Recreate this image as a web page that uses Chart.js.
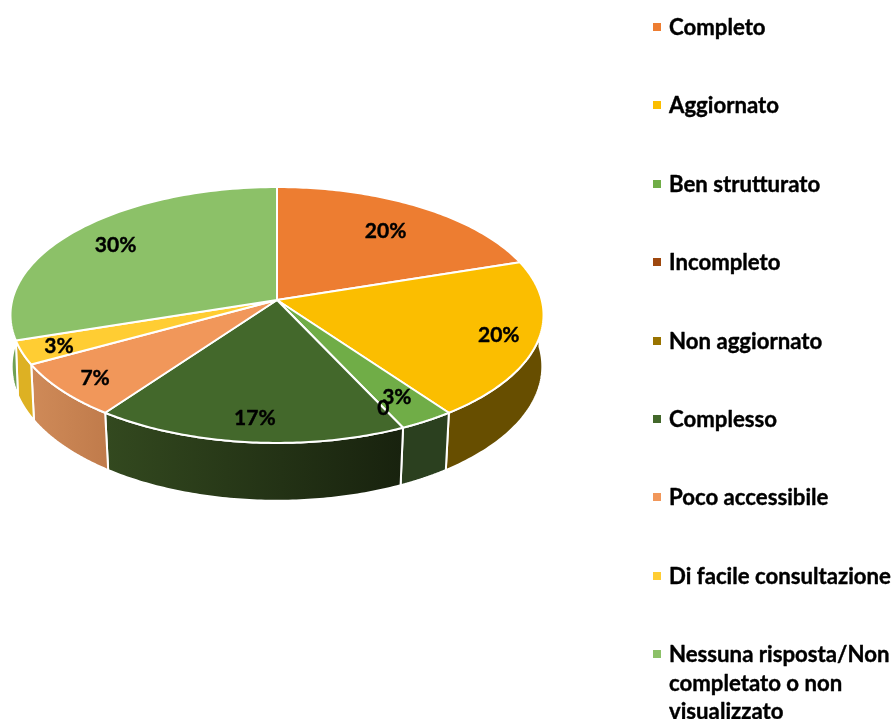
<!DOCTYPE html>
<html>
<head>
<meta charset="utf-8">
<title>Pie</title>
<script src="https://cdn.jsdelivr.net/npm/chart.js@4"></script>
<style>
  html, body { margin: 0; padding: 0; background: #fff; overflow: hidden; }
  canvas { display: block; }
</style>
</head>
<body>
<canvas id="chart" width="893" height="719"></canvas>
<script>
'use strict';

var categories = ['Completo', 'Aggiornato', 'Ben strutturato', 'Incompleto', 'Non aggiornato',
  'Complesso', 'Poco accessibile', 'Di facile consultazione', 'Nessuna risposta/Non completato o non visualizzato'];
var legendLines = [['Completo'], ['Aggiornato'], ['Ben strutturato'], ['Incompleto'], ['Non aggiornato'],
  ['Complesso'], ['Poco accessibile'], ['Di facile consultazione'], ['Nessuna risposta/Non', 'completato o non', 'visualizzato']];
var values = [20, 20, 3, 0, 0, 17, 7, 3, 30];
var valueLabels = ['20%', '20%', '3%', '0', '', '17%', '7%', '3%', '30%'];

var topColors = ['#ED7D31', '#FBBE00', '#70AD47', '#9E480E', '#997300', '#43682B', '#F1975A', '#FFCD33', '#8CC168'];
var wallColors = [
  ['#A0541F', '#A0541F'], ['#674E00', '#674E00'], ['#2B401F', '#2B401F'], ['#5A2A08', '#5A2A08'], ['#5A4400', '#5A4400'],
  ['#33491F', '#18220E'], ['#CF8A58', '#C07B4B'], ['#DDB123', '#DDB123'], ['#6FA053', '#6FA053']
];
// how far out along the radius each label sits
var labelRadius = [0.74, 0.85, 0.81, 0.85, 0.86, 0.84, 0.86, 0.865, 0.8];

// tilted disc: projection of the unit circle, top face and bottom face
var disc = { cx: 277, cy: 300, rx: 264.7, ry: 126.2, k: 0.117 };
var base = { cx: 277, cy: 353, rx: 264, ry: 133, k: 0.1 };

function project(p, a, r) {
  var u = Math.cos(a) * r, v = Math.sin(a) * r, d = 1 - p.k * v;
  return { x: p.cx + p.rx * u / d, y: p.cy + p.ry * v / d };
}

// heavier than plain Lato bold, closer to the reference's weight
function boldText(ctx, text, x, y) {
  ctx.fillText(text, x, y);
  ctx.strokeText(text, x, y);
}

var pie3d = {
  id: 'pie3d',
  // the arcs are painted below, in perspective, from their computed angles
  beforeDatasetDraw: function () { return false; },
  afterDatasetsDraw: function (chart) {
    var ctx = chart.ctx, arcs = chart.getDatasetMeta(0).data, steps = 80;
    ctx.save();
    ctx.lineJoin = 'round';
    ctx.strokeStyle = '#fff';
    ctx.lineWidth = 2;

    // side walls, only the part that faces the viewer
    arcs.forEach(function (arc, i) {
      if (!values[i]) return;
      var top = [], bottom = [];
      for (var s = 0; s <= steps; s++) {
        var a = arc.startAngle + (arc.endAngle - arc.startAngle) * s / steps;
        if (Math.sin(a) < -0.05) continue;
        top.push(project(disc, a, 1));
        bottom.push(project(base, a, 1));
      }
      if (!top.length) return;
      var xs = top.concat(bottom).map(function (p) { return p.x; });
      var grad = ctx.createLinearGradient(Math.min.apply(null, xs), 0, Math.max.apply(null, xs), 0);
      grad.addColorStop(0, wallColors[i][0]);
      grad.addColorStop(1, wallColors[i][1]);
      ctx.beginPath();
      top.concat(bottom.reverse()).forEach(function (p, n) {
        if (n) ctx.lineTo(p.x, p.y); else ctx.moveTo(p.x, p.y);
      });
      ctx.closePath();
      ctx.fillStyle = grad;
      ctx.fill();
      ctx.stroke();
    });

    // top faces
    arcs.forEach(function (arc, i) {
      if (!values[i]) return;
      ctx.beginPath();
      ctx.moveTo(disc.cx, disc.cy);
      for (var s = 0; s <= steps; s++) {
        var p = project(disc, arc.startAngle + (arc.endAngle - arc.startAngle) * s / steps, 1);
        ctx.lineTo(p.x, p.y);
      }
      ctx.closePath();
      ctx.fillStyle = topColors[i];
      ctx.fill();
      ctx.stroke();
    });

    // value labels
    ctx.strokeStyle = '#000';
    ctx.lineWidth = 0.4;
    ctx.fillStyle = '#000';
    ctx.font = 'bold 21px Lato';
    ctx.textAlign = 'center';
    ctx.textBaseline = 'middle';
    arcs.forEach(function (arc, i) {
      if (!valueLabels[i]) return;
      var p = project(disc, (arc.startAngle + arc.endAngle) / 2, labelRadius[i]);
      boldText(ctx, valueLabels[i], p.x + 1, p.y + 1.5);
    });

    // legend
    ctx.font = 'bold 22.2px Lato';
    ctx.textAlign = 'left';
    legendLines.forEach(function (lines, i) {
      var y = 27 + i * 78.4;
      ctx.fillStyle = topColors[i];
      ctx.fillRect(653, Math.round(y) - 4, 8, 8);
      ctx.fillStyle = '#000';
      lines.forEach(function (line, n) {
        boldText(ctx, line, 669, y + 0.8 + n * 28.6);
      });
    });
    ctx.restore();
  }
};

new Chart(document.getElementById('chart'), {
  type: 'pie',
  data: {
    labels: categories,
    datasets: [{ data: values, backgroundColor: topColors }]
  },
  options: {
    responsive: false,
    animation: false,
    plugins: { legend: { display: false }, tooltip: { enabled: false } }
  },
  plugins: [pie3d]
});
</script>
</body>
</html>
